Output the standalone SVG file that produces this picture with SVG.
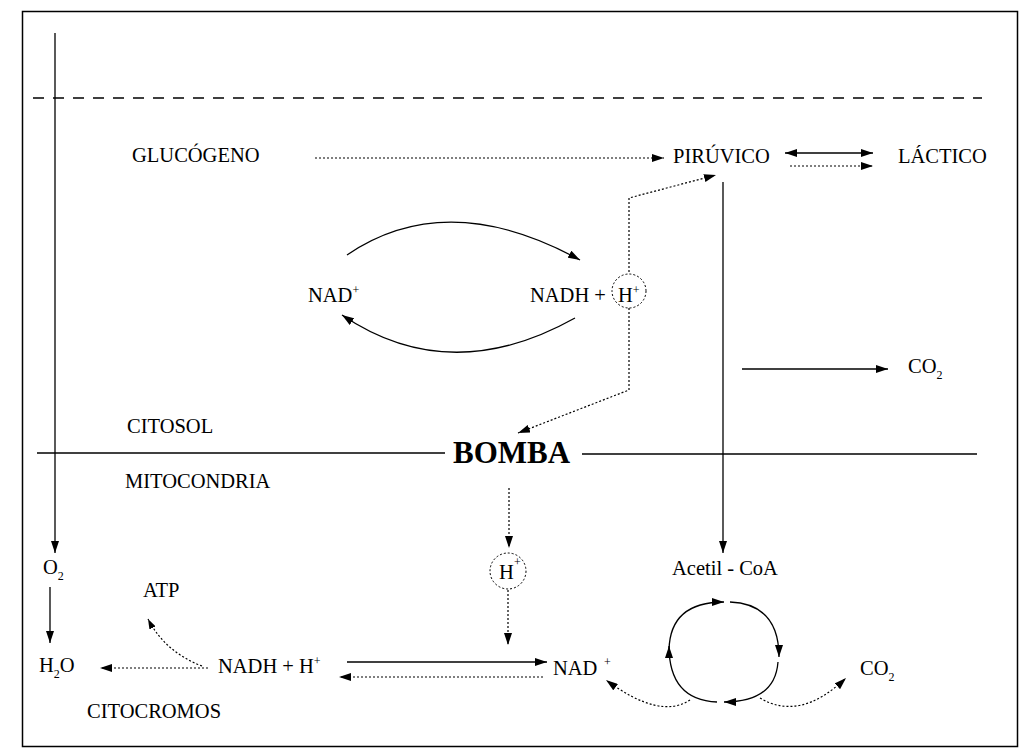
<svg xmlns="http://www.w3.org/2000/svg" width="1031" height="748" viewBox="0 0 1031 748">
<defs>
<marker id="ah" viewBox="0 0 12 8" refX="12" refY="4" markerWidth="12" markerHeight="8" markerUnits="userSpaceOnUse" orient="auto-start-reverse">
<path d="M0,0 L12,4 L0,8 Z" fill="#000"/>
</marker>
<marker id="ahs" viewBox="0 0 10 7" refX="10" refY="3.5" markerWidth="10" markerHeight="7" markerUnits="userSpaceOnUse" orient="auto-start-reverse">
<path d="M0,0 L10,3.5 L0,7 Z" fill="#000"/>
</marker>
</defs>
<style>
text{font-family:"Liberation Serif","Times New Roman",serif;font-size:20.5px;fill:#000}
.b{font-weight:bold;font-size:31px}
.sup{font-size:12px}
.sub{font-size:12px}
.s{fill:none;stroke:#000;stroke-width:1.3}
.d{fill:none;stroke:#000;stroke-width:1.2;stroke-dasharray:2,2}
.dc{fill:none;stroke:#000;stroke-width:1;stroke-dasharray:2,2}
.frame{fill:none;stroke:#000;stroke-width:1.5}
</style>
<rect width="1031" height="748" fill="#fff"/>
<rect class="frame" x="22.5" y="11.5" width="995" height="735"/>
<line x1="33" y1="98" x2="982" y2="98" stroke="#000" stroke-width="1.3" stroke-dasharray="11,9"/>
<line class="s" x1="37" y1="453" x2="445" y2="453"/>
<line class="s" x1="582" y1="454" x2="977" y2="454"/>

<g id="connectors">
<line class="s" x1="55" y1="33" x2="55" y2="553" marker-end="url(#ah)"/>
<line class="d" x1="315" y1="158" x2="664" y2="158" marker-end="url(#ah)"/>
<line class="s" x1="785" y1="153" x2="873" y2="153" marker-start="url(#ah)" marker-end="url(#ah)"/>
<line class="d" x1="790" y1="166" x2="873" y2="166" marker-end="url(#ah)"/>
<path class="d" d="M629,272 L629,198 L716,175" marker-end="url(#ah)"/>
<path class="s" d="M347,255 Q447,187 580,260" marker-end="url(#ah)"/>
<path class="s" d="M575,318 Q450,388 342,315" marker-end="url(#ah)"/>
<path class="d" d="M629,308 L629,390 L518,433" marker-end="url(#ah)"/>
<line class="s" x1="723" y1="182" x2="723" y2="553" marker-end="url(#ah)"/>
<line class="s" x1="742" y1="369" x2="888" y2="369" marker-end="url(#ah)"/>
<line class="d" x1="509" y1="488" x2="509" y2="548" marker-end="url(#ah)"/>
<line class="d" x1="508" y1="590" x2="508" y2="645" marker-end="url(#ah)"/>
<line class="s" x1="50" y1="587" x2="50" y2="643" marker-end="url(#ah)"/>
<line class="d" x1="208" y1="668" x2="100" y2="668" marker-end="url(#ah)"/>
<path class="d" d="M202,666 Q165,652 148,619" marker-end="url(#ahs)"/>
<line class="s" x1="347" y1="662" x2="547" y2="662" marker-end="url(#ah)"/>
<line class="d" x1="543" y1="677" x2="339" y2="677" marker-end="url(#ah)"/>
<path class="s" d="M669,650 Q670,602 724,602" marker-end="url(#ah)"/>
<path class="s" d="M730,602 Q779,604 779,657" marker-end="url(#ah)"/>
<path class="s" d="M778,662 Q775,702 724,702" marker-end="url(#ah)"/>
<path class="s" d="M717,702 Q669,700 669,646" marker-end="url(#ah)"/>
<path class="d" d="M690,700 Q660,720 606,680" marker-end="url(#ah)"/>
<path class="d" d="M760,698 Q800,722 846,678" marker-end="url(#ah)"/>
</g>

<g id="glucogeno"><text x="132" y="162">GLUCÓGENO</text></g>
<g id="piruvico"><text x="673" y="163">PIRÚVICO</text></g>
<g id="lactico"><text x="898" y="163">LÁCTICO</text></g>
<g id="nad-top"><text x="308" y="302">NAD<tspan class="sup" dy="-8">+</tspan></text></g>
<g id="nadh-top">
<text x="530" y="302">NADH +</text>
<circle class="dc" cx="629" cy="291" r="17"/>
<text x="618" y="302">H<tspan class="sup" dy="-8">+</tspan></text>
</g>
<g id="co2-top"><text x="908" y="373">CO<tspan class="sub" dy="6">2</tspan></text></g>
<g id="citosol"><text x="127" y="433">CITOSOL</text></g>
<g id="bomba"><text class="b" x="453" y="463">BOMBA</text></g>
<g id="mitocondria"><text x="125" y="488">MITOCONDRIA</text></g>
<g id="h-mid">
<circle class="dc" cx="508" cy="571" r="18"/>
<text x="499" y="579">H</text><text class="sup" x="514" y="566">+</text>
</g>
<g id="acetil"><text x="672" y="575">Acetil - CoA</text></g>
<g id="o2"><text x="43" y="574">O<tspan class="sub" dy="6">2</tspan></text></g>
<g id="atp"><text x="143" y="597">ATP</text></g>
<g id="h2o"><text x="39" y="672">H<tspan class="sub" dy="6">2</tspan><tspan dy="-6">O</tspan></text></g>
<g id="nadh-low"><text x="218" y="673">NADH + H<tspan class="sup" dy="-8">+</tspan></text></g>
<g id="nad-low"><text x="553" y="675">NAD</text><text class="sup" x="604" y="666">+</text></g>
<g id="co2-low"><text x="860" y="675">CO<tspan class="sub" dy="6">2</tspan></text></g>
<g id="citocromos"><text x="87" y="718">CITOCROMOS</text></g>
</svg>
